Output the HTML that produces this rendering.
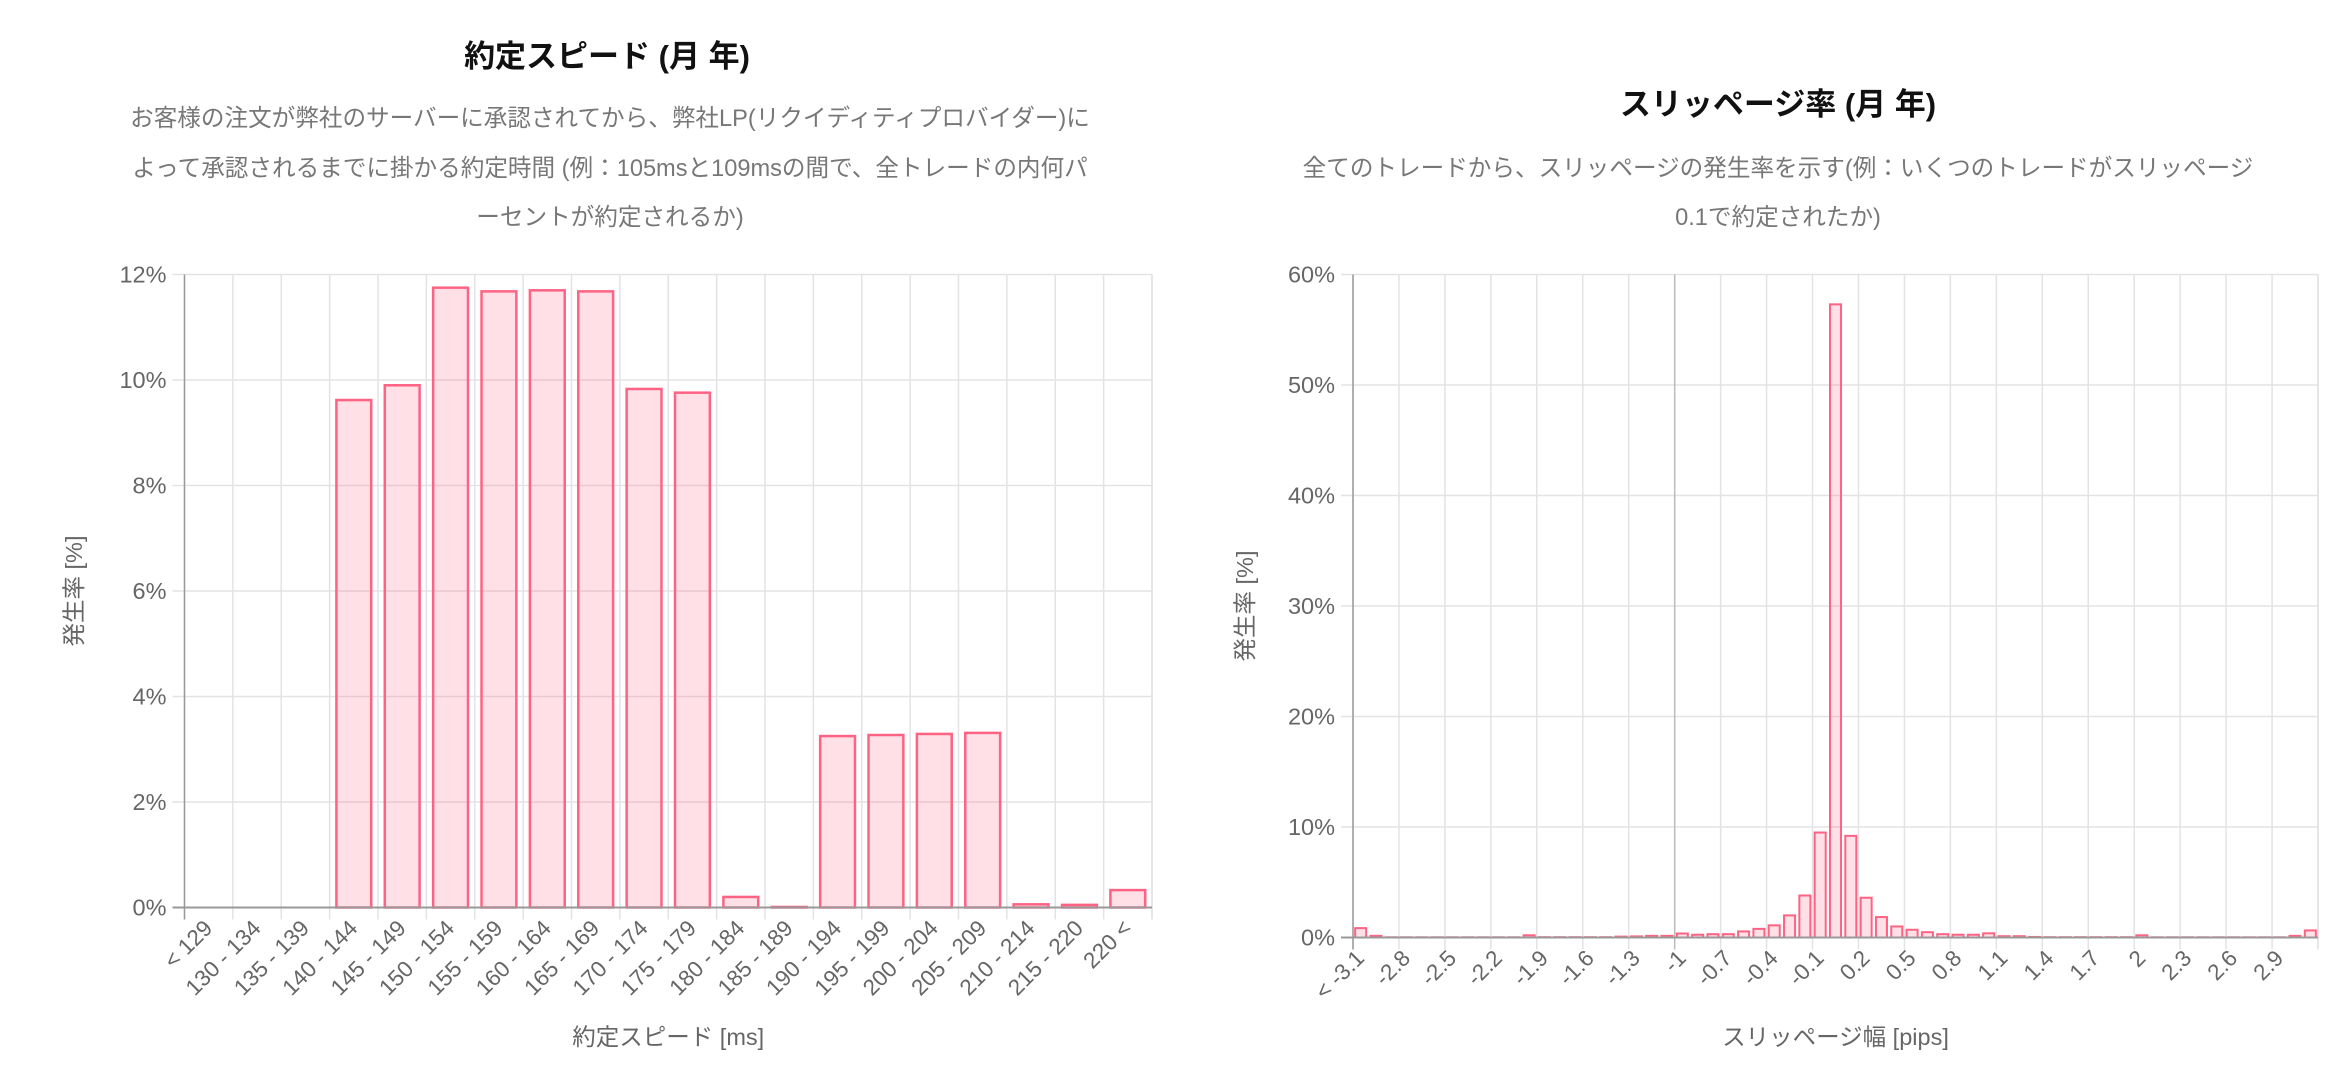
<!DOCTYPE html>
<html><head><meta charset="utf-8">
<style>
html,body{margin:0;padding:0;background:#fff;width:2352px;height:1084px;overflow:hidden}
svg{display:block;font-family:"Liberation Sans","Noto Sans CJK JP",sans-serif}
</style></head>
<body>
<svg id="svg" width="2352" height="1084" viewBox="0 0 2352 1084">
<g>
<text x="607" y="67" text-anchor="middle" font-size="31" font-weight="bold" fill="#111">約定スピード (月 年)</text>
<text x="610" y="126" text-anchor="middle" font-size="23.6" fill="#777">お客様の注文が弊社のサーバーに承認されてから、弊社LP(リクイディティプロバイダー)に</text>
<text x="610" y="176" text-anchor="middle" font-size="23.6" fill="#777">よって承認されるまでに掛かる約定時間 (例：105msと109msの間で、全トレードの内何パ</text>
<text x="610" y="225" text-anchor="middle" font-size="23.6" fill="#777">ーセントが約定されるか)</text>
</g>
<g>
<text x="1778" y="115" text-anchor="middle" font-size="31" font-weight="bold" fill="#111">スリッページ率 (月 年)</text>
<text x="1778" y="176" text-anchor="middle" font-size="23.6" fill="#777">全てのトレードから、スリッページの発生率を示す(例：いくつのトレードがスリッページ</text>
<text x="1778" y="225" text-anchor="middle" font-size="23.6" fill="#777">0.1で約定されたか)</text>
</g>
<g id="left"></g>
<g id="right"></g>
</svg>
<script>
const speedCategories = ["< 129","130 - 134","135 - 139","140 - 144","145 - 149","150 - 154","155 - 159","160 - 164","165 - 169","170 - 174","175 - 179","180 - 184","185 - 189","190 - 194","195 - 199","200 - 204","205 - 209","210 - 214","215 - 220","220 <"];
const speedValues = [0,0,0,9.62,9.9,11.75,11.68,11.7,11.68,9.83,9.76,0.2,0.01,3.25,3.27,3.29,3.31,0.06,0.05,0.33];
const speedTicks = [0,2,4,6,8,10,12];

const slipCategories = ["< -3.1","-3","-2.9","-2.8","-2.7","-2.6","-2.5","-2.4","-2.3","-2.2","-2.1","-2","-1.9","-1.8","-1.7","-1.6","-1.5","-1.4","-1.3","-1.2","-1.1","-1","-0.9","-0.8","-0.7","-0.6","-0.5","-0.4","-0.3","-0.2","-0.1","0","0.1","0.2","0.3","0.4","0.5","0.6","0.7","0.8","0.9","1","1.1","1.2","1.3","1.4","1.5","1.6","1.7","1.8","1.9","2","2.1","2.2","2.3","2.4","2.5","2.6","2.7","2.8","2.9","3","3.1 <"];
const slipValues = [0.85,0.15,0.02,0.02,0.02,0.02,0.02,0.02,0.02,0.02,0.02,0.2,0.03,0.03,0.03,0.03,0.03,0.08,0.1,0.15,0.15,0.36,0.25,0.3,0.3,0.55,0.78,1.1,2.0,3.8,9.5,57.3,9.2,3.6,1.85,1.0,0.7,0.48,0.3,0.25,0.25,0.38,0.12,0.12,0.05,0.03,0.03,0.03,0.03,0.03,0.03,0.2,0.02,0.02,0.02,0.02,0.02,0.02,0.02,0.02,0.02,0.15,0.64];
const slipTicks = [0,10,20,30,40,50,60];

const NS="http://www.w3.org/2000/svg";
function mk(parent,tag,attrs,text){const e=document.createElementNS(NS,tag);for(const k in attrs)e.setAttribute(k,attrs[k]);if(text!==undefined)e.textContent=text;parent.appendChild(e);return e;}

function drawChart(g,cfg){
  const n=cfg.cats.length, band=(cfg.x1-cfg.x0)/n;
  const yMax=cfg.ticks[cfg.ticks.length-1];
  const ys=v=>cfg.yBot-(v/yMax)*(cfg.yBot-cfg.yTop);
  const xs=i=>cfg.x0+i*band;
  cfg.ticks.forEach(t=>{
    const l=mk(g,'line',{x1:cfg.x0-12,x2:cfg.x1,y1:ys(t),y2:ys(t),stroke:'#e3e3e3','stroke-width':1.5});
    
    
    const tx=mk(g,'text',{x:cfg.x0-18,y:ys(t)+8,'text-anchor':'end','font-size':23.5,fill:'#666'},t+'%');
    
    
  });
  for(let i=0;i<=n;i+=cfg.step){
    const dark=(cfg.dark===i);
    const l=mk(g,'line',{x1:xs(i),x2:xs(i),y1:cfg.yTop,y2:cfg.yBot+12,stroke:dark?'#bbb':'#e3e3e3','stroke-width':1.5});
    
    
  }
  mk(g,'line',{x1:cfg.x1,x2:cfg.x1,y1:cfg.yTop,y2:cfg.yBot+12,stroke:'#e3e3e3','stroke-width':1.5});
  cfg.vals.forEach((v,i)=>{
    const w=band*0.72, x=xs(i)+(band-w)/2, y=ys(v);
    const r=mk(g,'rect',{x:x,y:y,width:w,height:Math.max(cfg.yBot-y,0),fill:'rgba(255,99,132,0.2)',stroke:'rgb(255,99,132)','stroke-width':cfg.sw});
    
    
  });
  mk(g,'line',{x1:cfg.x0,x2:cfg.x0,y1:cfg.yTop,y2:cfg.yBot+12,stroke:'#999','stroke-width':1.5});
  mk(g,'line',{x1:cfg.x0-12,x2:cfg.x1,y1:cfg.yBot,y2:cfg.yBot,stroke:'#999','stroke-width':2});
  for(let i=0;i<n;i+=cfg.step){
    const cx=xs(i)+band/2+5, cy=cfg.yBot+22;
    const tx=mk(g,'text',{x:cx,y:cy,'text-anchor':'end','font-size':22.5,fill:'#666',transform:`rotate(-45 ${cx} ${cy})`},cfg.cats[i]);
    
    
  }
  const xt=mk(g,'text',{x:(cfg.x0+cfg.x1)/2,y:cfg.xTitleY,'text-anchor':'middle','font-size':23.5,fill:'#666'},cfg.xTitle);
  
  
  const yc=(cfg.yTop+cfg.yBot)/2;
  const yt=mk(g,'text',{x:cfg.yTitleX,y:yc,'text-anchor':'middle','font-size':23.5,fill:'#666',transform:`rotate(-90 ${cfg.yTitleX} ${yc})`},'発生率 [%]');
  
  
}
drawChart(document.getElementById('left'),{cats:speedCategories,vals:speedValues,ticks:speedTicks,x0:184.5,x1:1152,yTop:274.5,yBot:907.5,step:1,sw:2.5,xTitle:'約定スピード [ms]',xTitleY:1045,yTitleX:82});
drawChart(document.getElementById('right'),{cats:slipCategories,vals:slipValues,ticks:slipTicks,x0:1353,x1:2318,yTop:274.5,yBot:937.5,step:3,sw:2,dark:21,xTitle:'スリッページ幅 [pips]',xTitleY:1045,yTitleX:1253});
</script>
</body></html>
